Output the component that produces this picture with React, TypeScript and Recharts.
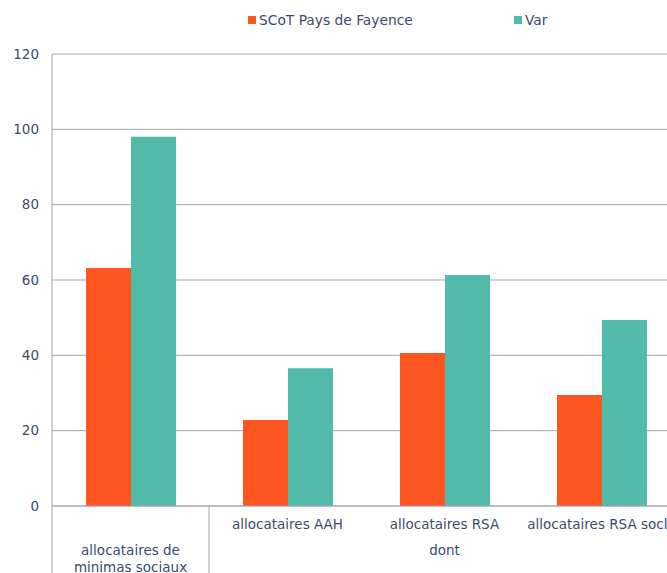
import React from "react";
import { BarChart, Bar, XAxis, YAxis, CartesianGrid } from "recharts";

// values
const categories = [
  "allocataires de minimas sociaux",
  "allocataires AAH",
  "allocataires RSA",
  "allocataires RSA socle",
];
const scotValues = [63.2, 22.8, 40.6, 29.5];
const varValues = [98.0, 36.6, 61.3, 49.4];
const yTicks = [0, 20, 40, 60, 80, 100, 120];
const seriesNames = ["SCoT Pays de Fayence", "Var"];
const seriesColors = ["#FD5420", "#52BAA9"];
const groupLabel = "dont";

const FONT = "'DejaVu Sans', Verdana, sans-serif";
const TEXT = "#3b4a6e";
const LINE = "#a3a5b2";
const LABEL_SIZE = 13.5;

const CHART_W = 700;
const CHART_H = 573;
const AXIS_W = 52;
const MARGIN = { top: 54, right: 20, left: 0, bottom: 0 };
const BAND_HALF = (CHART_W - AXIS_W - MARGIN.left - MARGIN.right) / categories.length / 2;

const data = categories.map((name, i) => ({
  name,
  scot: scotValues[i],
  var: varValues[i],
}));

function CategoryTick(props: any) {
  const { x, y, payload, index } = props;
  const half = payload?.offset || BAND_HALF;
  const bottom = CHART_H;
  if (index === 0) {
    const words = String(payload.value).split(" ");
    const line1 = words.slice(0, 2).join(" ");
    const line2 = words.slice(2).join(" ");
    return (
      <g>
        <line x1={x - half} y1={y} x2={x - half} y2={bottom} stroke={LINE} />
        <line x1={x + half} y1={y} x2={x + half} y2={bottom} stroke={LINE} />
        <text x={x} y={y + 49} textAnchor="middle" fill={TEXT} fontSize={LABEL_SIZE} fontFamily={FONT}>
          {line1}
        </text>
        <text x={x} y={y + 66} textAnchor="middle" fill={TEXT} fontSize={LABEL_SIZE} fontFamily={FONT}>
          {line2}
        </text>
      </g>
    );
  }
  return (
    <g>
      <text x={x} y={y + 23} textAnchor="middle" fill={TEXT} fontSize={LABEL_SIZE} fontFamily={FONT}>
        {payload.value}
      </text>
      {index === 2 && (
        <text x={x} y={y + 49} textAnchor="middle" fill={TEXT} fontSize={LABEL_SIZE} fontFamily={FONT}>
          {groupLabel}
        </text>
      )}
    </g>
  );
}

function TopLegend() {
  const left = [248, 514];
  return (
    <div style={{ position: "absolute", top: 0, left: 0, fontFamily: FONT, fontSize: 13.8, color: TEXT }}>
      {seriesNames.map((n, i) => (
        <div
          key={n}
          style={{ position: "absolute", left: left[i], top: 12, display: "flex", alignItems: "center", whiteSpace: "nowrap" }}
        >
          <span style={{ width: 8, height: 8, background: seriesColors[i], display: "inline-block", marginRight: 3 }} />
          <span>{n}</span>
        </div>
      ))}
    </div>
  );
}

export default function App() {
  return (
    <div
      style={{
        position: "fixed",
        top: 0,
        left: 0,
        width: 667,
        height: 573,
        overflow: "hidden",
        background: "#fff",
      }}
    >
      <BarChart width={CHART_W} height={CHART_H} data={data} margin={MARGIN} barGap={0} barSize={45}>
        <CartesianGrid vertical={false} stroke={LINE} />
        <XAxis
          dataKey="name"
          interval={0}
          tickLine={false}
          tickSize={0}
          tickMargin={0}
          height={CHART_H - 506}
          axisLine={{ stroke: LINE }}
          tick={<CategoryTick />}
        />
        <YAxis
          domain={[0, 120]}
          ticks={yTicks}
          width={AXIS_W}
          tickLine={false}
          tickSize={0}
          tickMargin={13}
          axisLine={{ stroke: LINE }}
          tick={{ fill: TEXT, fontSize: 13.5, fontFamily: FONT }}
        />
        <Bar dataKey="scot" name={seriesNames[0]} fill={seriesColors[0]} isAnimationActive={false} />
        <Bar dataKey="var" name={seriesNames[1]} fill={seriesColors[1]} isAnimationActive={false} />
      </BarChart>
      <TopLegend />
    </div>
  );
}
